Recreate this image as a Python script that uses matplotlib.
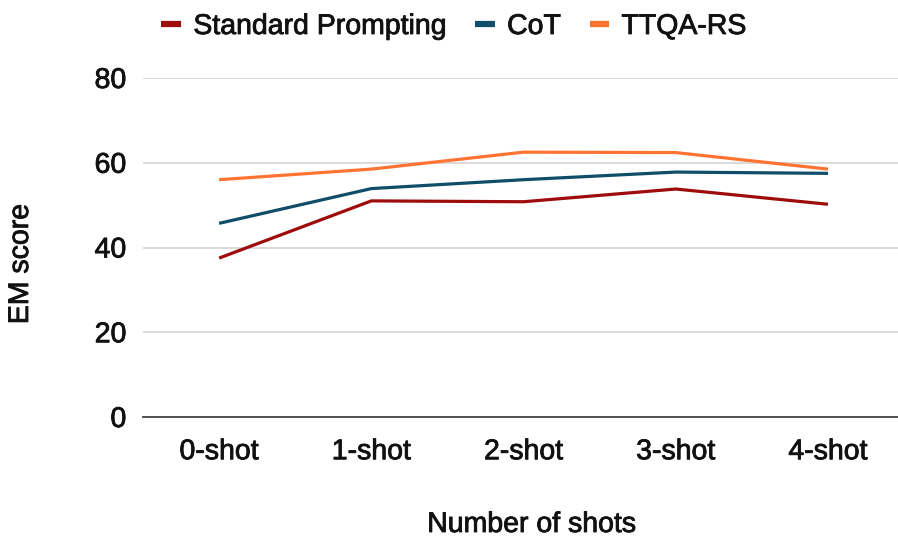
import matplotlib
matplotlib.use("Agg")
import matplotlib.pyplot as plt
from matplotlib.lines import Line2D
import matplotlib.patheffects as pe

plt.rcParams['font.family'] = ['Liberation Sans', 'DejaVu Sans']

categories = ["0-shot", "1-shot", "2-shot", "3-shot", "4-shot"]
standard = [37.5, 51.0, 50.8, 53.8, 50.2]
cot = [45.7, 53.9, 56.0, 57.8, 57.5]
ttqa = [56.0, 58.5, 62.5, 62.4, 58.5]
yticks = [0, 20, 40, 60, 80]

series_names = ["Standard Prompting", "CoT", "TTQA-RS"]
colors = ["#9e0c0c", "#0f4d68", "#ff7433"]

TXT = '#111111'
bold_fx = [pe.withStroke(linewidth=0.6, foreground=TXT)]

W, H = 898, 539
fig = plt.figure(figsize=(W / 100, H / 100), dpi=100)
left, right, bottom, top = 143, 898, 417, 78
ax = fig.add_axes([left / W, 1 - bottom / H, (right - left) / W, (bottom - top) / H])

x = list(range(len(categories)))
for vals, c in zip([standard, cot, ttqa], colors):
    ax.plot(x, vals, color=c, lw=2.3, solid_capstyle='butt', zorder=3)

ax.set_xlim(-0.5, 4.46)
ax.set_ylim(0, 80)
ax.set_yticks(yticks)
ax.set_xticks(x)
ax.set_xticklabels(categories)
ax.tick_params(axis='both', length=0, labelsize=20.5, colors=TXT)
ax.tick_params(axis='y', pad=12)
ax.tick_params(axis='x', pad=16)
for lab in ax.get_xticklabels() + ax.get_yticklabels():
    lab.set_path_effects(bold_fx)
ax.yaxis.grid(True, color='#d4d4d4', lw=1.2)
ax.set_axisbelow(True)
for s in ['top', 'right', 'left']:
    ax.spines[s].set_visible(False)
ax.spines['bottom'].set_color('#444444')
ax.spines['bottom'].set_linewidth(1.3)
ax.spines['bottom'].set_zorder(4)

fig.text(531.7 / W, 1 - 525 / H, "Number of shots", ha='center', va='center', fontsize=20.5,
         color=TXT, path_effects=bold_fx)
fig.text(21 / W, 1 - 264 / H, "EM score", ha='center', va='center', rotation=90, fontsize=20.5,
         color=TXT, path_effects=bold_fx)

handles = [Line2D([0], [0], color=c, lw=4.5, solid_capstyle='butt') for c in colors]
leg = fig.legend(handles, series_names, loc='center', bbox_to_anchor=(454 / W, 1 - 27 / H), ncol=3,
                 frameon=False, fontsize=20.5, handlelength=0.68, handletextpad=0.44, columnspacing=1.0,
                 borderpad=0, borderaxespad=0)
for t in leg.get_texts():
    t.set_color(TXT)
    t.set_path_effects(bold_fx)

fig.savefig("out.png", dpi=100)
